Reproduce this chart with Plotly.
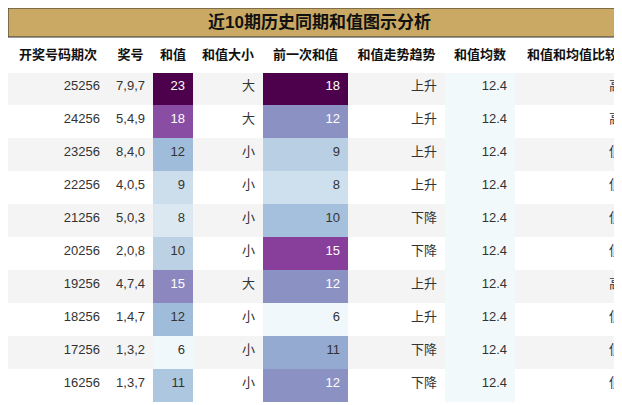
import plotly.graph_objects as go
from plotly.colors import sample_colorscale

title = "近10期历史同期和值图示分析"
headers = ["开奖号码期次", "奖号", "和值", "和值大小", "前一次和值", "和值走势趋势", "和值均数", "和值和均值比较"]
periods = ["25256", "24256", "23256", "22256", "21256", "20256", "19256", "18256", "17256", "16256"]
numbers = ["7,9,7", "5,4,9", "8,4,0", "4,0,5", "5,0,3", "2,0,8", "4,7,4", "1,4,7", "1,3,2", "1,3,7"]
sums = [23, 18, 12, 9, 8, 10, 15, 12, 6, 11]
sizes = ["大", "大", "小", "小", "小", "小", "大", "小", "小", "小"]
prev_sums = [18, 12, 9, 8, 10, 15, 12, 6, 11, 12]
trends = ["上升", "上升", "上升", "上升", "下降", "下降", "上升", "上升", "下降", "下降"]
means = [12.4] * 10
compare = ["高", "高", "低", "低", "低", "低", "高", "低", "低", "低"]

FONT = "Liberation Sans, Noto Sans CJK SC"

def colmap(vals):
    lo, hi = min(vals), max(vals)
    ts = [(v - lo) / (hi - lo) for v in vals]
    cols = sample_colorscale("BuPu", [0.03 + 0.97 * t for t in ts])
    fcols = ["white" if t > 0.45 else "#333" for t in ts]
    return cols, fcols

row_bg = ["#f4f4f4" if i % 2 == 0 else "white" for i in range(10)]
sc, sf = colmap(sums)
pc, pf = colmap(prev_sums)
mean_bg = ["#f2f9fb"] * 10
dark = ["#333"] * 10

fig = go.Figure(go.Table(
    columnwidth=[100, 45, 40, 70, 85, 97, 70, 115],
    header=dict(values=["<b>%s</b>" % h for h in headers], height=33,
                fill_color="white", line_color="white", align="center",
                font=dict(family=FONT, size=13, color="#111")),
    cells=dict(values=[periods, numbers, sums, sizes, prev_sums, trends, ["%.1f" % m for m in means], compare],
               height=33, align="right", line_color="rgba(0,0,0,0)",
               fill_color=[row_bg, row_bg, sc, row_bg, pc, row_bg, mean_bg, row_bg],
               font=dict(family=FONT, size=13,
                         color=[dark, dark, sf, dark, pf, dark, dark, dark])),
    domain=dict(x=[0, 1], y=[0, 1 - 31 / 405]),
))
fig.add_shape(type="rect", xref="paper", yref="paper", x0=0, x1=1, y0=1 - 29 / 405, y1=1,
              fillcolor="#c9a964", line=dict(color="#333", width=1))
fig.add_annotation(text="<b>%s</b>" % title, xref="paper", yref="paper", x=0.5, y=1 - 14.5 / 405,
                   yanchor="middle", xanchor="center",
                   showarrow=False, font=dict(family=FONT, size=17, color="#111"))
fig.update_layout(width=622, height=405, margin=dict(l=0, r=0, t=0, b=0), paper_bgcolor="white")
fig.write_html("out.html")
